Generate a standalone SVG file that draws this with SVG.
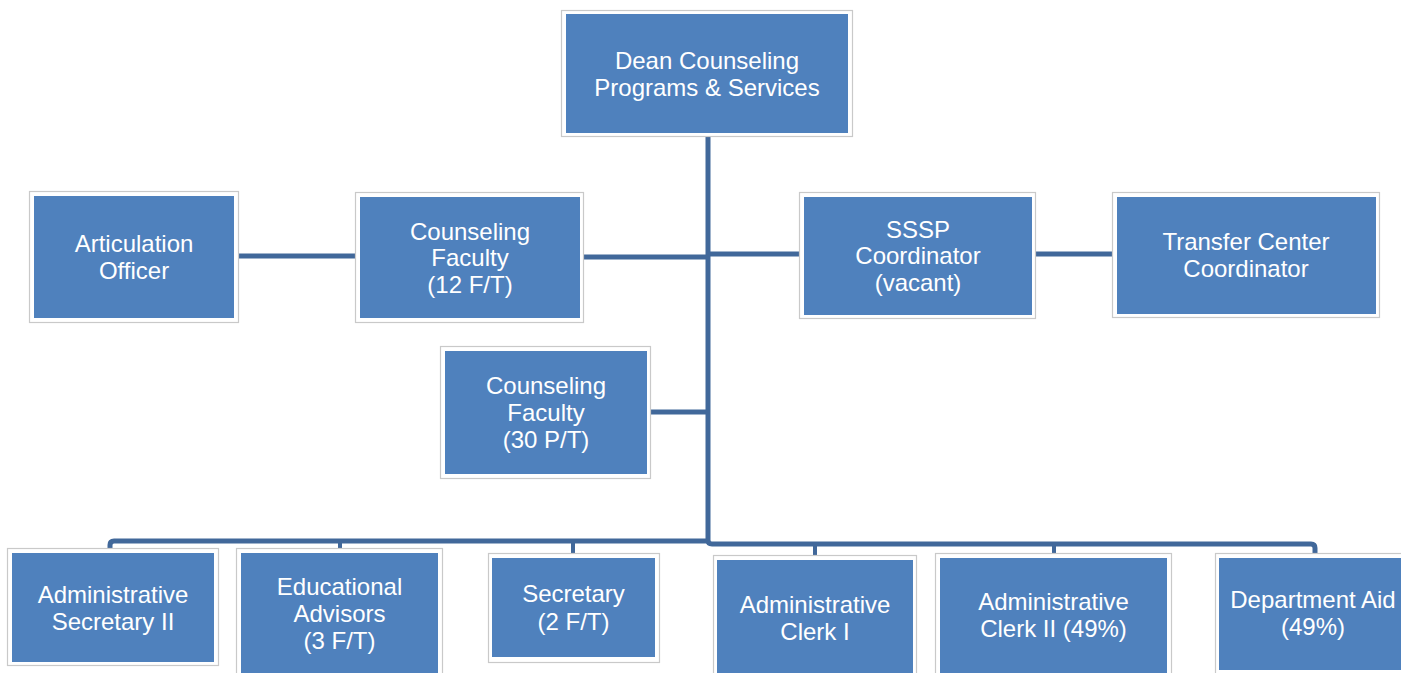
<svg xmlns="http://www.w3.org/2000/svg" width="1401" height="673" viewBox="0 0 1401 673">
<style>
.frame{fill:#ffffff;stroke:#c9c9c9;stroke-width:1.2}
.box{fill:#4f81bd}
.lbl{font-family:"Liberation Sans",Arial,sans-serif;font-size:24px;fill:#ffffff;text-anchor:middle}
.con{fill:none;stroke:#41689a;stroke-width:5;stroke-linejoin:round}
.drop{fill:none;stroke:#41689a;stroke-width:4}
</style>
<rect width="1401" height="673" fill="#ffffff"/>
<g id="connectors">
<path class="con" d="M708,137 V540 Q708,544 712,544 H1311 Q1315,544 1315,548 V553"/>
<path class="con" d="M708,541 H114 Q110,541 110,545 V549"/>
<path class="drop" d="M340,541 V549"/>
<path class="drop" d="M573,541 V553"/>
<path class="drop" d="M815,544 V555"/>
<path class="drop" d="M1054,544 V553"/>
<path class="con" d="M584,257 H708"/>
<path class="con" d="M708,254 H799"/>
<path class="con" d="M239,256 H355"/>
<path class="con" d="M1036,254 H1112"/>
<path class="con" d="M651,412 H708"/>
</g>
<g id="dean">
<rect class="frame" x="561.5" y="10.5" width="291" height="126"/>
<rect class="box" x="566" y="14" width="282" height="119"/>
<text class="lbl" x="707" y="69">Dean Counseling</text>
<text class="lbl" x="707" y="95.5">Programs &amp; Services</text>
</g>
<g id="articulation">
<rect class="frame" x="29.5" y="191.5" width="209" height="131"/>
<rect class="box" x="34" y="196" width="200" height="122"/>
<text class="lbl" x="134" y="252">Articulation</text>
<text class="lbl" x="134" y="279">Officer</text>
</g>
<g id="counseling-ft">
<rect class="frame" x="355.5" y="192.5" width="228" height="130"/>
<rect class="box" x="360" y="197" width="220" height="121"/>
<text class="lbl" x="470" y="239.5">Counseling</text>
<text class="lbl" x="470" y="266">Faculty</text>
<text class="lbl" x="470" y="293">(12 F/T)</text>
</g>
<g id="sssp">
<rect class="frame" x="799.5" y="192.5" width="236" height="126"/>
<rect class="box" x="804" y="197" width="228" height="118"/>
<text class="lbl" x="918" y="237.5">SSSP</text>
<text class="lbl" x="918" y="264">Coordinator</text>
<text class="lbl" x="918" y="291">(vacant)</text>
</g>
<g id="transfer">
<rect class="frame" x="1112.5" y="192.5" width="267" height="125"/>
<rect class="box" x="1117" y="197" width="259" height="117"/>
<text class="lbl" x="1246" y="250">Transfer Center</text>
<text class="lbl" x="1246" y="277">Coordinator</text>
</g>
<g id="counseling-pt">
<rect class="frame" x="440.5" y="346.5" width="210" height="132"/>
<rect class="box" x="445" y="351" width="202" height="123"/>
<text class="lbl" x="546" y="394">Counseling</text>
<text class="lbl" x="546" y="421">Faculty</text>
<text class="lbl" x="546" y="448">(30 P/T)</text>
</g>
<g id="admin-sec">
<rect class="frame" x="7.5" y="548.5" width="211" height="117"/>
<rect class="box" x="12" y="553" width="202" height="109"/>
<text class="lbl" x="113" y="603">Administrative</text>
<text class="lbl" x="113" y="629.5">Secretary II</text>
</g>
<g id="edu-advisors">
<rect class="frame" x="236.5" y="548.5" width="206" height="130"/>
<rect class="box" x="241" y="553" width="197" height="125"/>
<text class="lbl" x="339.5" y="594.5">Educational</text>
<text class="lbl" x="339.5" y="621.5">Advisors</text>
<text class="lbl" x="339.5" y="648.5">(3 F/T)</text>
</g>
<g id="secretary">
<rect class="frame" x="488.5" y="553.5" width="171" height="109"/>
<rect class="box" x="492" y="558" width="163" height="99"/>
<text class="lbl" x="573.5" y="602">Secretary</text>
<text class="lbl" x="573.5" y="629.5">(2 F/T)</text>
</g>
<g id="clerk-1">
<rect class="frame" x="713.5" y="555.5" width="203" height="125"/>
<rect class="box" x="717" y="560" width="196" height="120"/>
<text class="lbl" x="815" y="613">Administrative</text>
<text class="lbl" x="815" y="639.5">Clerk I</text>
</g>
<g id="clerk-2">
<rect class="frame" x="935.5" y="553.5" width="236" height="127"/>
<rect class="box" x="940" y="558" width="227" height="122"/>
<text class="lbl" x="1053.5" y="610">Administrative</text>
<text class="lbl" x="1053.5" y="636.5">Clerk II (49%)</text>
</g>
<g id="dept-aid">
<rect class="frame" x="1215.5" y="553.5" width="200" height="122"/>
<rect class="box" x="1219" y="558" width="192" height="112"/>
<text class="lbl" x="1313" y="608">Department Aid</text>
<text class="lbl" x="1313" y="635">(49%)</text>
</g>
</svg>
